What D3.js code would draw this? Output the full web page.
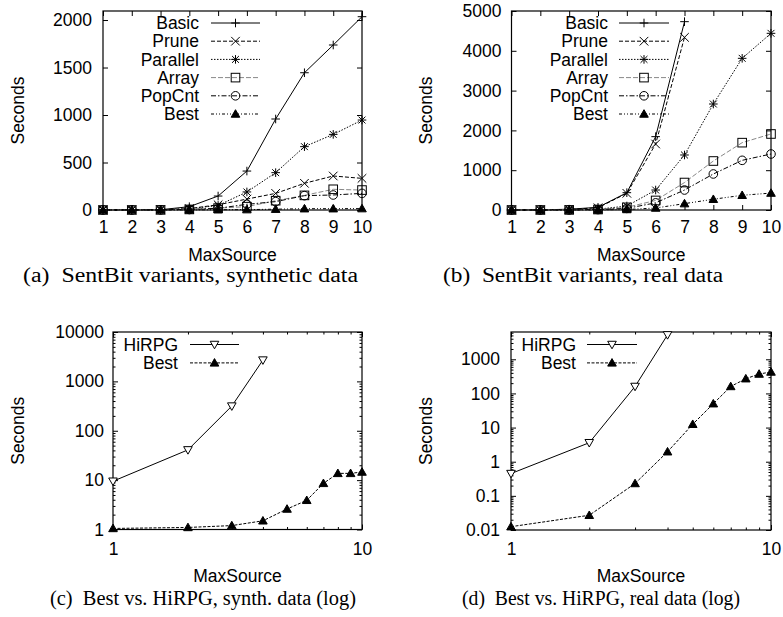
<!DOCTYPE html>
<html>
<head>
<meta charset="UTF-8">
<title>SentBit variants vs HiRPG</title>
<style>
  body { margin: 0; background: #fff; }
  svg { display: block; }
  .tick text, .lbl { font-family: "Liberation Sans", Arial, sans-serif; font-size: 17.5px; fill: #000; }
  .cap { font-family: "Liberation Serif", "Times New Roman", serif; font-size: 20px; fill: #000; white-space: pre; }
</style>
</head>
<body>
<svg id="fig" width="783" height="617"></svg>
<script src="https://d3js.org/d3.v7.min.js"></script>
<script>
// x values (MaxSource)
const maxSource = [1, 2, 3, 4, 5, 6, 7, 8, 9, 10];

// (a) SentBit variants, synthetic data (seconds)
const basicSynth    = [0.2, 0.5, 3, 35, 147, 410, 958, 1445, 1737, 2035];
const pruneSynth    = [0.2, 0.4, 2, 15, 55, 115, 175, 281, 358, 333];
const parallelSynth = [0.2, 0.4, 2, 12, 48, 190, 393, 667, 796, 947];
const arraySynth    = [0.1, 0.3, 1, 6, 20, 35, 98, 154, 218, 210];
const popcntSynth   = [0.1, 0.3, 1, 5, 18, 60, 88, 151, 158, 175];
const bestSynth     = [1.05, 1.1, 1.2, 1.5, 2.6, 3.9, 8.6, 13.7, 13.7, 14.6];

// (b) SentBit variants, real data (seconds); Basic and Prune stop at 7
const basicReal    = [0.4, 3, 20, 67, 435, 1843, 4732];
const pruneReal    = [0.3, 2, 15, 55, 419, 1658, 4338];
const parallelReal = [0.1, 0.5, 3, 20, 100, 502, 1382, 2663, 3811, 4439];
const arrayReal    = [0.1, 0.3, 2, 12, 67, 240, 690, 1231, 1692, 1910];
const popcntReal   = [0.1, 0.3, 2, 10, 40, 180, 502, 905, 1248, 1407];
const bestReal     = [0.0125, 0.027, 0.23, 1.96, 12.5, 50, 160, 270, 370, 425];

// (c) / (d) HiRPG (log scale), stops at 4
const hirpgSynth = [9.5, 41, 316, 2700];
const hirpgReal  = [0.45, 3.6, 160, 5200];

// tick values
const linXTicks = [1, 2, 3, 4, 5, 6, 7, 8, 9, 10];
const ticksA = [0, 500, 1000, 1500, 2000];
const ticksB = [0, 1000, 2000, 3000, 4000, 5000];
const ticksC = [1, 10, 100, 1000, 10000];
const ticksD = [0.01, 0.1, 1, 10, 100, 1000];
const logXMajor = [1, 10];
const logXMinor = [2, 3, 4, 5, 6, 7, 8, 9];

const svg = d3.select("#fig");

// line styles, gnuplot mono-ish
const styles = {
  Basic:    { dash: null, color: "#000", mark: "plus" },
  Prune:    { dash: "4,2", color: "#000", mark: "cross" },
  Parallel: { dash: "1.5,1.5", color: "#000", mark: "star" },
  Array:    { dash: "5,2", color: "#888", mark: "square" },
  PopCnt:   { dash: "5,2,1.5,2", color: "#000", mark: "circle" },
  Best:     { dash: "3,2,1,2,1,2", color: "#000", mark: "tri" },
  BestLog:  { dash: "3,1.5", color: "#000", mark: "tri" },
  HiRPG:    { dash: null, color: "#000", mark: "trid" }
};

function drawMark(g, type, cx, cy) {
  const s = 4.3;
  const m = g.append("g").attr("transform", `translate(${cx},${cy})`)
    .attr("fill", "none").attr("stroke", "#000").attr("stroke-width", 1);
  if (type === "plus") {
    m.append("path").attr("d", `M${-s},0H${s}M0,${-s}V${s}`);
  } else if (type === "cross") {
    m.append("path").attr("d", `M${-s},${-s}L${s},${s}M${-s},${s}L${s},${-s}`);
  } else if (type === "star") {
    m.append("path").attr("d", `M${-s},0H${s}M0,${-s}V${s}M${-s*0.8},${-s*0.8}L${s*0.8},${s*0.8}M${-s*0.8},${s*0.8}L${s*0.8},${-s*0.8}`);
  } else if (type === "square") {
    m.append("rect").attr("x", -s).attr("y", -s).attr("width", 2 * s).attr("height", 2 * s);
  } else if (type === "circle") {
    m.append("circle").attr("r", s);
  } else if (type === "tri") {
    m.append("path").attr("d", `M0,${-s}L${s},${s*0.75}L${-s},${s*0.75}Z`).attr("fill", "#000");
  } else if (type === "trid") {
    m.append("path").attr("d", `M0,${s}L${s},${-s*0.75}L${-s},${-s*0.75}Z`).attr("fill", "#fff");
  }
}

function drawPanel(p) {
  const g = svg.append("g");
  const x = (p.logX ? d3.scaleLog() : d3.scaleLinear()).domain([1, 10]).range([p.left, p.right]);
  const y = (p.logY ? d3.scaleLog() : d3.scaleLinear()).domain(p.yDomain).range([p.bottom, p.top]);

  // axes: ticks point inward, mirrored on top/right
  const fmtY = p.yFmt || (d => d);
  g.append("g").attr("transform", `translate(0,${p.bottom})`)
    .call(d3.axisBottom(x).tickValues(p.xTicks).tickFormat(d => d).tickSizeInner(-5).tickSizeOuter(0).tickPadding(p.xPad));
  g.append("g").attr("transform", `translate(0,${p.top})`)
    .call(d3.axisTop(x).tickValues(p.xTicks).tickFormat("").tickSizeInner(-5).tickSizeOuter(0));
  g.append("g").attr("transform", `translate(${p.left},0)`)
    .call(d3.axisLeft(y).tickValues(p.yTicks).tickFormat(fmtY).tickSizeInner(-5).tickSizeOuter(0).tickPadding(p.yPad));
  g.append("g").attr("transform", `translate(${p.right},0)`)
    .call(d3.axisRight(y).tickValues(p.yTicks).tickFormat("").tickSizeInner(-5).tickSizeOuter(0));
  if (p.xMinor) {
    g.append("g").attr("transform", `translate(0,${p.bottom})`)
      .call(d3.axisBottom(x).tickValues(p.xMinor).tickFormat("").tickSizeInner(-2.5).tickSizeOuter(0));
    g.append("g").attr("transform", `translate(0,${p.top})`)
      .call(d3.axisTop(x).tickValues(p.xMinor).tickFormat("").tickSizeInner(-2.5).tickSizeOuter(0));
  }
  if (p.yMinor) {
    g.append("g").attr("transform", `translate(${p.left},0)`)
      .call(d3.axisLeft(y).tickValues(p.yMinor).tickFormat("").tickSizeInner(-2.5).tickSizeOuter(0));
    g.append("g").attr("transform", `translate(${p.right},0)`)
      .call(d3.axisRight(y).tickValues(p.yMinor).tickFormat("").tickSizeInner(-2.5).tickSizeOuter(0));
  }
  g.selectAll(".domain").remove();
  g.selectAll(".tick line").attr("stroke", "#000");
  g.selectAll(".tick text").attr("font-family", null).attr("font-size", null);

  // frame
  g.append("rect").attr("x", p.left).attr("y", p.top)
    .attr("width", p.right - p.left).attr("height", p.bottom - p.top)
    .attr("fill", "none").attr("stroke", "#000").attr("stroke-width", 1.2);

  // series
  p.series.forEach(sr => {
    const st = styles[sr.style];
    const pts = sr.values.map((v, i) => [maxSource[i], v]);
    g.append("path").datum(pts)
      .attr("fill", "none").attr("stroke", st.color).attr("stroke-width", 1)
      .attr("stroke-dasharray", st.dash)
      .attr("d", d3.line().x(d => x(d[0])).y(d => y(d[1])));
    pts.forEach(d => drawMark(g, st.mark, x(d[0]), y(d[1])));
  });

  // legend
  p.series.forEach((sr, i) => {
    const st = styles[sr.style];
    const ly = p.legY + i * p.legStep;
    g.append("text").attr("class", "lbl").attr("x", p.legText).attr("y", ly)
      .attr("dy", "0.35em").attr("text-anchor", "end").text(sr.name);
    g.append("line").attr("x1", p.legLine[0]).attr("x2", p.legLine[1]).attr("y1", ly).attr("y2", ly)
      .attr("stroke", st.color).attr("stroke-width", 1).attr("stroke-dasharray", st.dash);
    drawMark(g, st.mark, (p.legLine[0] + p.legLine[1]) / 2, ly);
  });

  // axis titles and caption
  g.append("text").attr("class", "lbl").attr("x", (p.left + p.right) / 2).attr("y", p.xLabelY)
    .attr("text-anchor", "middle").text("MaxSource");
  g.append("text").attr("class", "lbl").attr("text-anchor", "middle")
    .attr("transform", `translate(${p.yLabelX},${(p.top + p.bottom) / 2}) rotate(-90)`).text("Seconds");
  g.append("text").attr("class", "cap").attr("x", p.capX).attr("y", p.capY)
    .attr("textLength", p.capW).attr("lengthAdjust", "spacingAndGlyphs")
    .text(p.caption);
}

const sixSeries = (b, pr, pa, ar, pc, be) => [
  { name: "Basic", style: "Basic", values: b },
  { name: "Prune", style: "Prune", values: pr },
  { name: "Parallel", style: "Parallel", values: pa },
  { name: "Array", style: "Array", values: ar },
  { name: "PopCnt", style: "PopCnt", values: pc },
  { name: "Best", style: "Best", values: be }
];

drawPanel({
  left: 103, right: 362, top: 11, bottom: 210,
  yDomain: [0, 2095], xTicks: linXTicks, yTicks: ticksA, xPad: 11, yPad: 11,
  series: sixSeries(basicSynth, pruneSynth, parallelSynth, arraySynth, popcntSynth, bestSynth),
  legY: 23, legStep: 18.2, legText: 199, legLine: [211, 260],
  xLabelY: 261, yLabelX: 24, capX: 23, capY: 282, capW: 335,
  caption: "(a)  SentBit variants, synthetic data"
});

drawPanel({
  left: 511.5, right: 771, top: 11, bottom: 210,
  yDomain: [0, 5000], xTicks: linXTicks, yTicks: ticksB, xPad: 11, yPad: 10,
  series: sixSeries(basicReal, pruneReal, parallelReal, arrayReal, popcntReal, bestReal),
  legY: 23, legStep: 18.2, legText: 608, legLine: [619, 669],
  xLabelY: 261, yLabelX: 432, capX: 443, capY: 282, capW: 280,
  caption: "(b)  SentBit variants, real data"
});

const decadeMinor = (lo, hi) => {
  const out = [];
  for (let d = lo; d < hi; d *= 10) for (let k = 2; k <= 9; k++) if (d * k <= hi) out.push(d * k);
  return out;
};

drawPanel({
  left: 113, right: 362, top: 332, bottom: 529.5, logX: true, logY: true,
  yDomain: [1, 10000], xTicks: logXMajor, xMinor: logXMinor, yTicks: ticksC, yMinor: decadeMinor(1, 10000),
  xPad: 13, yPad: 9, yFmt: d => d,
  series: [
    { name: "HiRPG", style: "HiRPG", values: hirpgSynth },
    { name: "Best", style: "BestLog", values: bestSynth }
  ],
  legY: 344.5, legStep: 18.4, legText: 178, legLine: [190, 239],
  xLabelY: 582, yLabelX: 24, capX: 50, capY: 605, capW: 306,
  caption: "(c)  Best vs. HiRPG, synth. data (log)"
});

drawPanel({
  left: 511, right: 771, top: 332, bottom: 530, logX: true, logY: true,
  yDomain: [0.01, 6300], xTicks: logXMajor, xMinor: logXMinor, yTicks: ticksD, yMinor: decadeMinor(0.01, 6300),
  xPad: 13, yPad: 11, yFmt: d => String(d),
  series: [
    { name: "HiRPG", style: "HiRPG", values: hirpgReal },
    { name: "Best", style: "BestLog", values: bestReal }
  ],
  legY: 344.5, legStep: 18.4, legText: 576, legLine: [587, 637],
  xLabelY: 582, yLabelX: 432, capX: 462, capY: 605, capW: 278,
  caption: "(d)  Best vs. HiRPG, real data (log)"
});
</script>
</body>
</html>
